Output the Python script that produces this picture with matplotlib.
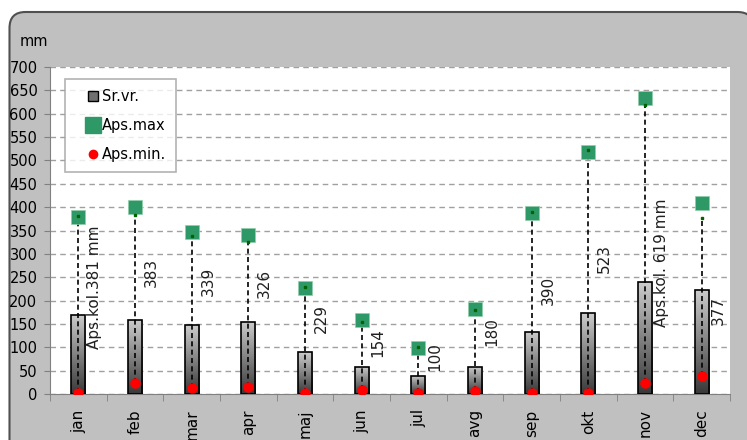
import numpy as np
import matplotlib
matplotlib.use('Agg')
import matplotlib.pyplot as plt
from matplotlib.patches import FancyBboxPatch
from matplotlib.lines import Line2D

months = ['jan', 'feb', 'mar', 'apr', 'maj', 'jun', 'jul', 'avg', 'sep', 'okt', 'nov', 'dec']
sr_vr = [170, 158, 147, 155, 89, 58, 39, 58, 133, 173, 239, 222]
aps_max = [379, 400, 346, 340, 227, 158, 98, 182, 387, 518, 634, 408]
aps_min = [3, 23, 12, 16, 3, 9, 3, 6, 3, 3, 23, 39]
aps_kol = [381, 383, 339, 326, 229, 154, 100, 180, 390, 523, 619, 377]
kol_labels = ['Aps.kol.381 mm', '383', '339', '326', '229', '154', '100', '180',
              '390', '523', 'Aps.kol. 619 mm', '377']
# where the rotated labels sit (layout only)
label_y = [229, 261, 242, 237, 162, 111, 81, 133, 222, 289, 280, 178]

plt.rcParams['font.family'] = ['DejaVu Sans']
fig = plt.figure(figsize=(7.47, 4.4), dpi=100)
fig.patch.set_facecolor('white')

# grey rounded frame
frame = FancyBboxPatch((0.095, -0.3), 7.44, 4.58,
                       boxstyle='round,pad=0,rounding_size=0.16',
                       transform=fig.dpi_scale_trans, facecolor='#c0c0c0',
                       edgecolor='#505050', linewidth=1.5, zorder=-5)
fig.patches.append(frame)

ax = fig.add_axes([50 / 747, 46 / 440, 680 / 747, 327 / 440])
ax.set_zorder(2)
ax.set_facecolor('white')
x = np.arange(len(months))

ax.set_ylim(0, 700)
ax.set_xlim(-0.5, len(months) - 0.5)
ax.set_yticks(range(0, 701, 50))
ax.yaxis.grid(True, color='#a0a0a0', linestyle=(0, (4, 3)), linewidth=1)
ax.set_axisbelow(True)

for s in ['top', 'right']:
    ax.spines[s].set_visible(False)
ax.spines['left'].set_color('#808080')
ax.spines['bottom'].set_color('#808080')

# bars with vertical grey gradient
grad = np.linspace(0.22, 0.8, 256).reshape(-1, 1)
bars = ax.bar(x, sr_vr, width=0.25, color='none', edgecolor='black',
              linewidth=1.2, zorder=3)
for b in bars:
    x0, y0 = b.get_x(), b.get_y()
    im = ax.imshow(grad, cmap='gray', vmin=0, vmax=1, origin='lower',
                   extent=[x0, x0 + b.get_width(), y0, y0 + b.get_height()],
                   aspect='auto', zorder=2)
    im.set_clip_path(b)
ax.set_ylim(0, 700)
ax.set_xlim(-0.5, len(months) - 0.5)

# dashed lines min -> max
ax.vlines(x, aps_min, aps_kol, colors='black', linestyles=(0, (3, 2)),
          linewidth=1.2, zorder=4)
ax.plot(x, aps_min, 'o', color='red', markersize=6.5, zorder=5)
ax.plot(x, aps_max, 's', color='#2e9966', markeredgecolor='#8fcfa8',
        markeredgewidth=0.5, markersize=10, zorder=5)
ax.plot(x, aps_kol, 's', color='#006400', markersize=2, zorder=6)

for xi, yi, t in zip(x, label_y, kol_labels):
    ax.text(xi + 0.29, yi, t, rotation=90, ha='center', va='center',
            fontsize=11, color='#202020', zorder=7)

ax.set_xticks(x)
ax.set_xticklabels(months, rotation=90, fontsize=11, va='top')
ax.set_xticks(np.arange(-0.5, len(months), 1), minor=True)
ax.tick_params(axis='x', which='major', length=0, pad=11)
ax.tick_params(axis='x', which='minor', length=5, color='#808080')
ax.tick_params(axis='y', length=4, color='#808080', pad=5, labelsize=10.5)

fig.text(20 / 747, 1 - 42 / 440, 'mm', fontsize=10.5, va='center')

handles = [
    Line2D([], [], marker='s', linestyle='none', markerfacecolor='#707070',
           markeredgecolor='black', markersize=7),
    Line2D([], [], marker='s', linestyle='none', color='#2e9966', markersize=11),
    Line2D([], [], marker='o', linestyle='none', color='red', markersize=6),
]
leg = ax.legend(handles, ['Sr.vr.', 'Aps.max', 'Aps.min.'], loc='upper left',
                bbox_to_anchor=(0.012, 0.985), fontsize=10.5, frameon=True,
                fancybox=False, edgecolor='#a0a0a0', labelspacing=0.95,
                handletextpad=-0.6, borderpad=0.7, handlelength=2.4)
leg.get_frame().set_linewidth(1.2)
leg.set_zorder(8)

fig.savefig('out.png', dpi=100, facecolor=fig.get_facecolor())
